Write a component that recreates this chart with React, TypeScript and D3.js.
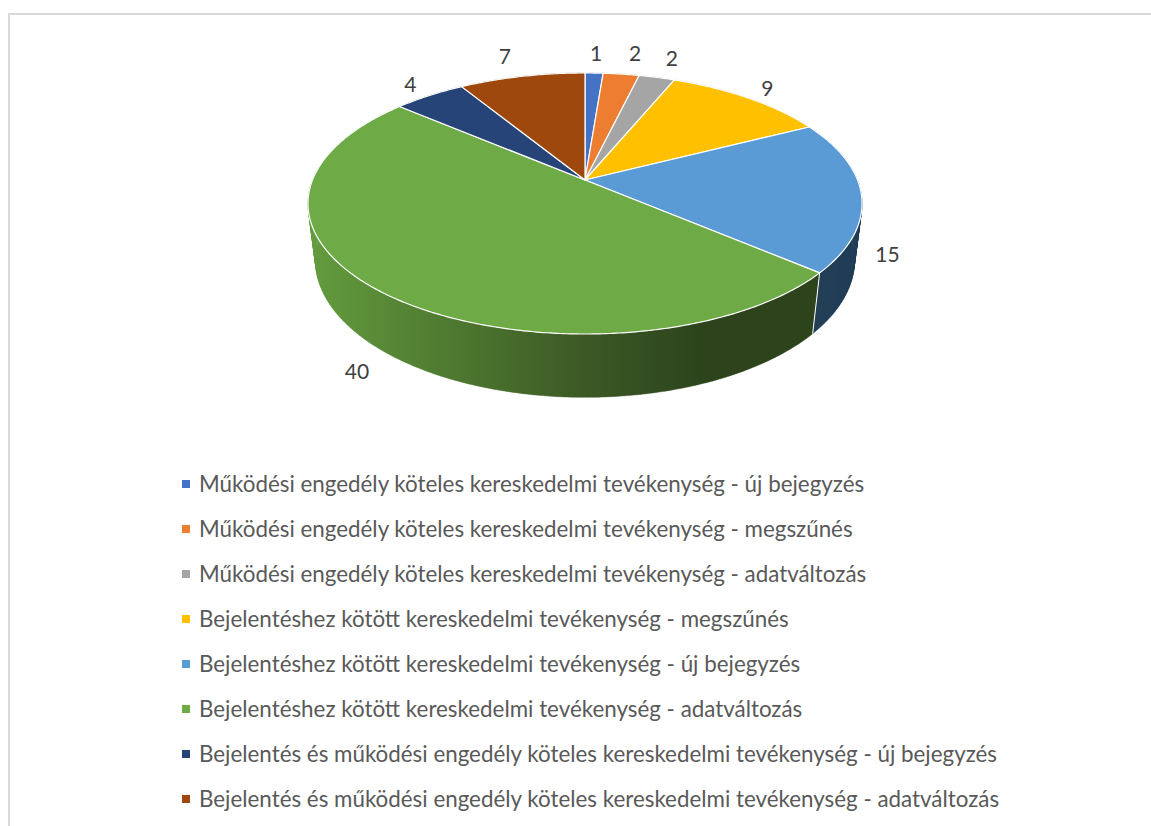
import * as d3 from 'd3';

const categories = [
  'Működési engedély köteles kereskedelmi tevékenység - új bejegyzés',
  'Működési engedély köteles kereskedelmi tevékenység - megszűnés',
  'Működési engedély köteles kereskedelmi tevékenység - adatváltozás',
  'Bejelentéshez kötött kereskedelmi tevékenység - megszűnés',
  'Bejelentéshez kötött kereskedelmi tevékenység - új bejegyzés',
  'Bejelentéshez kötött kereskedelmi tevékenység - adatváltozás',
  'Bejelentés és működési engedély köteles kereskedelmi tevékenység - új bejegyzés',
  'Bejelentés és működési engedély köteles kereskedelmi tevékenység - adatváltozás',
];
const values = [1, 2, 2, 9, 15, 40, 4, 7];
const colors = ['#4472c4', '#ed7d31', '#a5a5a5', '#ffc000', '#5b9bd5', '#6eab47', '#264478', '#9e480e'];
const sideColors = ['#2f4f88', '#a55722', '#737373', '#b28600', '#233f58', 'url(#greenSide)', '#1a2f54', '#6e3209'];

// label nudges from the rim, Excel "best fit" put them here
const labelOffsets = [
  [2, -21],
  [14, -22],
  [15, -20],
  [19, -11],
  [26, 58],
  [-23, 79],
  [-19, -12],
  [-17, -21],
];

const width = 1151;
const height = 826;

// perspective for the tilted disc
const cx = 585;
const cy = 180;
const rimX = 272.5;
const rimY = 126.3;
const persp = 0.18;
const depthW = 0.027;
const depthY = 57.8;

const project = (angle: number, t: number): [number, number] => {
  const u = Math.sin(angle);
  const v = -Math.cos(angle);
  const w = 1 - persp * v + depthW * t;
  return [cx + (rimX * u) / w, cy + (rimY * v + depthY * t) / w];
};

const arcAngles = (a0: number, a1: number) => [...d3.range(a0, a1, 0.01), a1];
const line = d3.line<[number, number]>();

export default function App() {
  const arcs = d3.pie<number>().sort(null).startAngle(0).endAngle(2 * Math.PI)(values);

  const legendY = d3
    .scalePoint<number>()
    .domain(d3.range(categories.length))
    .range([484, 799]);

  const topPath = (a0: number, a1: number) =>
    line([[cx, cy], ...arcAngles(a0, a1).map((a) => project(a, 0))]) + 'Z';

  // small quads so the wall also fills the tangent area at both sides of the disc
  const sidePath = (a0: number, a1: number) => {
    const angles = arcAngles(a0, a1);
    return d3
      .pairs(angles)
      .map(([a, b]) => line([project(a, 0), project(b, 0), project(b, 1), project(a, 1)]) + 'Z')
      .join('');
  };

  // paint the side walls back to front
  const sideOrder = d3.range(arcs.length).sort((a, b) => {
    const depth = (i: number) => -Math.cos((arcs[i].startAngle + arcs[i].endAngle) / 2);
    return depth(a) - depth(b);
  });

  return (
    <svg
      width={width}
      height={height}
      style={{ position: 'absolute', left: 0, top: 0, display: 'block', background: '#fff' }}
    >
      <defs>
        <linearGradient id="greenSide" gradientUnits="userSpaceOnUse" x1={308} x2={862} y1={0} y2={0}>
          <stop offset="0" stopColor="#639c3e" />
          <stop offset="0.25" stopColor="#4f7a30" />
          <stop offset="0.5" stopColor="#3b5925" />
          <stop offset="0.72" stopColor="#2c431b" />
          <stop offset="1" stopColor="#2c431b" />
        </linearGradient>
      </defs>

      <path d={`M${width},14H9V${height}`} fill="none" stroke="#d9d9d9" strokeWidth={2} />

      {sideOrder.map((i) => (
        <g key={i}>
          <path
            d={sidePath(arcs[i].startAngle, arcs[i].endAngle)}
            fill={sideColors[i]}
            stroke={sideColors[i]}
            strokeWidth={0.4}
          />
          <path
            d={line([project(arcs[i].startAngle, 0), project(arcs[i].startAngle, 1)]) ?? ''}
            stroke="#fff"
            strokeWidth={1}
          />
        </g>
      ))}

      {arcs.map((d, i) => (
        <path
          key={i}
          d={topPath(d.startAngle, d.endAngle)}
          fill={colors[i]}
          stroke="#fff"
          strokeWidth={1.2}
          strokeLinejoin="round"
        />
      ))}

      {arcs.map((d, i) => {
        const [x, y] = project((d.startAngle + d.endAngle) / 2, 0);
        return (
          <text
            key={i}
            x={x + labelOffsets[i][0]}
            y={y + labelOffsets[i][1]}
            textAnchor="middle"
            dominantBaseline="central"
            fontFamily="Lato, 'Open Sans', sans-serif"
            fontSize={21}
            fill="#404040"
          >
            {d.value}
          </text>
        );
      })}

      {categories.map((name, i) => (
        <g key={name} transform={`translate(0,${legendY(i)})`}>
          <rect x={182} y={-4} width={8} height={8} fill={colors[i]} />
          <text
            x={199}
            y={-1}
            dominantBaseline="central"
            fontFamily="Lato, 'Open Sans', sans-serif"
            fontSize={22.37}
            fill="#595959"
          >
            {name}
          </text>
        </g>
      ))}
    </svg>
  );
}
